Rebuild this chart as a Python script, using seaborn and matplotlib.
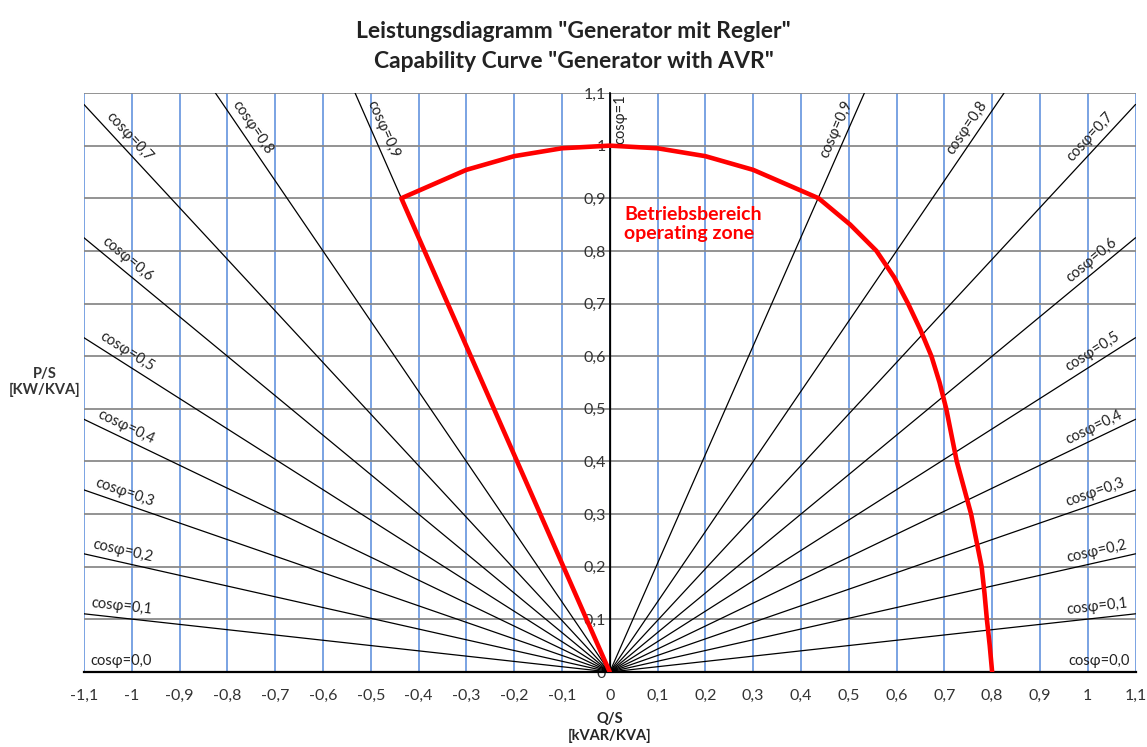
import numpy as np
import pandas as pd
import seaborn as sns
import matplotlib.pyplot as plt

# power factor lines
cos_values = [0.0, 0.1, 0.2, 0.3, 0.4, 0.5, 0.6, 0.7, 0.8, 0.9, 1.0]

# operating zone boundary (Q/S, P/S)
zone_q = [0.0, -0.436, -0.3, -0.2, -0.1, 0.0, 0.1, 0.2, 0.3, 0.437,
          0.503, 0.558, 0.595, 0.624, 0.65, 0.673, 0.69, 0.704, 0.715,
          0.726, 0.741, 0.756, 0.767, 0.778, 0.784, 0.789, 0.795, 0.8]
zone_p = [0.0, 0.9, 0.954, 0.98, 0.995, 1.0, 0.995, 0.98, 0.954, 0.9,
          0.85, 0.8, 0.75, 0.7, 0.65, 0.6, 0.55, 0.5, 0.45,
          0.4, 0.35, 0.3, 0.25, 0.2, 0.15, 0.1, 0.05, 0.0]

x_ticks = [round(-1.1 + 0.1 * i, 1) for i in range(23)]
y_ticks = [round(0.1 * i, 1) for i in range(12)]
XMAX, YMAX = 1.1, 1.1


def fmt(v):
    s = f"{v:g}".replace(".", ",")
    return "0" if s in ("-0", "0") else s


def line_end(c, side):
    # where the cos-phi line leaves the box
    s = np.sqrt(max(0.0, 1 - c * c))
    if c == 1.0:
        return 0.0, YMAX
    t = min(XMAX / s, YMAX / c if c > 0 else np.inf)
    return side * s * t, c * t


sns.set_theme(style="white")
plt.rcParams['font.family'] = ['Lato', 'DejaVu Sans']

fig = plt.figure(figsize=(11.47, 7.47), dpi=100)
ax = fig.add_axes([0.0732, 0.1004, 0.9168, 0.7751])
ax.set_xlim(-XMAX, XMAX)
ax.set_ylim(0, YMAX)

# grid
for xv in x_ticks:
    ax.axvline(xv, color='#6f9ce0', lw=1.3, zorder=0)
for yv in y_ticks[1:]:
    ax.axhline(yv, color='#8a8a8a', lw=1.3, zorder=0)

# cos-phi lines
rows = []
for c in cos_values:
    for side in (-1, 1):
        if c == 1.0 and side == 1:
            continue
        xe, ye = line_end(c, side)
        key = f"{c}_{side}"
        rows.append({"key": key, "q": 0.0, "p": 0.0})
        rows.append({"key": key, "q": xe, "p": ye})
lines = pd.DataFrame(rows)
sns.lineplot(data=lines, x="q", y="p", units="key", estimator=None, sort=False,
             color="black", lw=0.9, ax=ax, zorder=2)

# labels along the lines
ax_w = fig.get_figwidth() * fig.dpi * 0.9168
ax_h = fig.get_figheight() * fig.dpi * 0.7751
sx, sy = ax_w / (2 * XMAX), ax_h / YMAX
for c in cos_values:
    txt = "cosφ=" + ("1" if c == 1.0 else f"{c:.1f}".replace(".", ","))
    for side in (-1, 1):
        if c == 1.0 and side == 1:
            continue
        xe, ye = line_end(c, side)
        f = 0.93 if c < 1 else 0.955
        px, py = xe * f, ye * f
        if side == -1 and c < 1:
            dx, dy = -xe * sx, -ye * sy
        else:
            dx, dy = xe * sx, ye * sy
        n = np.hypot(dx, dy)
        dx, dy = dx / n, dy / n
        ang = np.degrees(np.arctan2(dy, dx))
        nx, ny = -dy, dx
        if c == 1.0:
            nx, ny = 1.0, 0.0
        ax.annotate(txt, xy=(px, py), xytext=(nx * 8, ny * 8),
                    textcoords="offset points", rotation=ang,
                    rotation_mode="anchor", ha="center", va="center",
                    fontsize=10.5, color="#222222", zorder=3)

# operating zone
zone = pd.DataFrame({"q": zone_q, "p": zone_p})
sns.lineplot(data=zone, x="q", y="p", sort=False, estimator=None,
             color="#ff0000", lw=3.3, ax=ax, zorder=4)
ax.text(0.03, 0.885, "Betriebsbereich\noperating zone", color="#ff0000",
        fontweight="bold", fontsize=14, ha="left", va="top",
        linespacing=1.1, zorder=5)

# axes
for sp in ("top", "right"):
    ax.spines[sp].set_visible(False)
ax.spines["left"].set_position(("data", 0))
ax.spines["left"].set_color("black")
ax.spines["left"].set_linewidth(1.2)
ax.spines["bottom"].set_color("black")
ax.spines["bottom"].set_linewidth(1.6)
ax.set_xticks(x_ticks)
ax.set_xticklabels([fmt(v) for v in x_ticks])
ax.set_yticks(y_ticks)
ax.set_yticklabels([fmt(v) for v in y_ticks])
ax.tick_params(axis="x", length=5, width=1, color="black", pad=7, labelsize=11.5)
ax.tick_params(axis="y", length=0, pad=3, labelsize=11.5)
ax.tick_params(colors="#333333", which="both")
ax.set_xlabel("Q/S\n[kVAR/KVA]", fontweight="bold", fontsize=10.5, labelpad=7)
ax.set_ylabel("")
fig.text(0.039, 0.489, "P/S\n[KW/KVA]", fontweight="bold", fontsize=10.5,
         ha="center", va="center", color="#333333")

fig.text(0.5, 0.958, 'Leistungsdiagramm "Generator mit Regler"',
         fontweight="bold", fontsize=16.5, ha="center", va="center", color="#222222")
fig.text(0.5, 0.918, 'Capability Curve "Generator with AVR"',
         fontweight="bold", fontsize=16.5, ha="center", va="center", color="#222222")

fig.savefig("out.png", dpi=100)
